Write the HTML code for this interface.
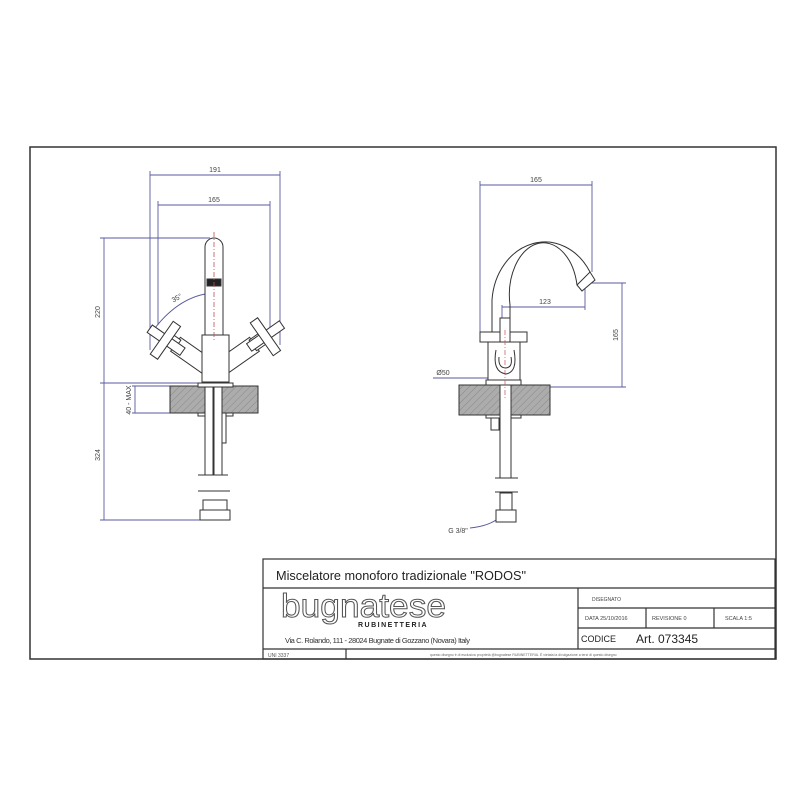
<!DOCTYPE html>
<html><head><meta charset="utf-8"><style>html,body{margin:0;padding:0;background:#fff}svg{display:block}text{font-family:"Liberation Sans",sans-serif}</style></head>
<body>
<svg width="800" height="800" viewBox="0 0 800 800" xmlns="http://www.w3.org/2000/svg">
<defs>
<pattern id="h" width="5" height="5" patternUnits="userSpaceOnUse" patternTransform="rotate(45)">
<rect width="5" height="5" fill="#acacac"/><line x1="0" y1="0" x2="0" y2="5" stroke="#888" stroke-width="1"/></pattern>
</defs>
<rect x="30" y="147" width="746" height="512" fill="none" stroke="#333" stroke-width="1.5"/>
<g stroke="#333" stroke-width="1.2" fill="none">
<rect x="263" y="559" width="512" height="100"/>
<line x1="263" y1="588" x2="775" y2="588"/>
<line x1="578" y1="588" x2="578" y2="649"/>
<line x1="578" y1="608" x2="775" y2="608"/>
<line x1="578" y1="628" x2="775" y2="628"/>
<line x1="646" y1="608" x2="646" y2="628"/>
<line x1="714" y1="608" x2="714" y2="628"/>
<line x1="263" y1="649" x2="775" y2="649"/>
<line x1="346" y1="649" x2="346" y2="659"/>
</g>
<text x="276" y="580" font-size="13" fill="#222" textLength="250" lengthAdjust="spacingAndGlyphs">Miscelatore monoforo tradizionale "RODOS"</text>
<text x="281" y="617" font-size="33" fill="#fff" stroke="#555" stroke-width="1" textLength="165" lengthAdjust="spacingAndGlyphs">bugnatese</text>
<text x="358" y="627" font-size="7" font-weight="bold" fill="#222" letter-spacing="1.5">RUBINETTERIA</text>
<text x="285" y="643" font-size="7.5" fill="#333" textLength="185">Via C. Rolando, 111 - 28024 Bugnate di Gozzano (Novara) Italy</text>
<text x="592" y="601" font-size="5" fill="#444">DISEGNATO</text>
<text x="585" y="620" font-size="5.5" fill="#444">DATA    25/10/2016</text>
<text x="652" y="620" font-size="5.5" fill="#444">REVISIONE  0</text>
<text x="725" y="620" font-size="5.5" fill="#444">SCALA   1:5</text>
<text x="581" y="642" font-size="9" fill="#222">CODICE</text>
<text x="636" y="643" font-size="12" fill="#222">Art. 073345</text>
<text x="268" y="657" font-size="5" fill="#555">UNI 3337</text>
<text x="430" y="656" font-size="3.5" fill="#666">questo disegno è di esclusiva proprietà @bugnatese RUBINETTERIA. È vietata la divulgazione a terzi di questo disegno</text>

<g stroke="#5a5aa0" stroke-width="0.9" fill="none">
<line x1="150" y1="175" x2="280" y2="175"/><line x1="150" y1="171" x2="150" y2="350"/><line x1="280" y1="171" x2="280" y2="345"/>
<line x1="158" y1="205" x2="270" y2="205"/><line x1="158" y1="201" x2="158" y2="325"/><line x1="270" y1="201" x2="270" y2="330"/>
<line x1="104" y1="238" x2="104" y2="520"/><line x1="100" y1="238" x2="210" y2="238"/>
<line x1="100" y1="383" x2="202" y2="383"/><line x1="100" y1="520" x2="205" y2="520"/>
<line x1="135" y1="386" x2="135" y2="413"/><line x1="132" y1="386" x2="170" y2="386"/><line x1="132" y1="413" x2="170" y2="413"/>
<path d="M155 328 Q180 296 212 293"/>
</g>
<g font-size="7" fill="#444" text-anchor="middle">
<text x="215" y="172">191</text><text x="214" y="202">165</text>
<text x="100" y="312" transform="rotate(-90 100 312)">220</text>
<text x="100" y="455" transform="rotate(-90 100 455)">324</text>
<text x="131" y="400" transform="rotate(-90 131 400)">40 - MAX</text>
<text x="178" y="300" transform="rotate(-30 178 300)">35°</text>
</g>
<g stroke="#333" stroke-width="1" fill="#fff">
<path d="M205 335 V247 A9 9 0 0 1 223 247 V335"/>
<rect x="207" y="279" width="14" height="7" fill="#222"/>
<g transform="rotate(35 190 355)"><rect x="172" y="346" width="38" height="17"/><rect x="158" y="348" width="16" height="13"/></g>
<g transform="rotate(35 165 340)"><rect x="146" y="335" width="40" height="9"/><rect x="161" y="320" width="9" height="40"/></g>
<g transform="rotate(-35 240 355)"><rect x="220" y="346" width="38" height="17"/><rect x="256" y="348" width="16" height="13"/></g>
<g transform="rotate(-35 265 337)"><rect x="246" y="332" width="40" height="9"/><rect x="261" y="317" width="9" height="40"/></g>
<rect x="202" y="335" width="27" height="47"/>
<rect x="170" y="386" width="88" height="27" fill="url(#h)"/>
<rect x="198" y="383" width="35" height="4"/>
<rect x="198" y="413" width="35" height="3"/>
<rect x="205" y="387" width="8" height="88"/><rect x="214" y="387" width="8" height="88"/>
<rect x="222" y="413" width="4" height="30"/>
<rect x="203" y="500" width="24" height="20"/><rect x="200" y="510" width="30" height="10"/>
</g>
<g stroke="#333"><line x1="198" y1="475" x2="228" y2="475"/><line x1="198" y1="491" x2="230" y2="491"/></g>
<line x1="214" y1="232" x2="214" y2="340" stroke="#c05050" stroke-width="0.8" stroke-dasharray="5 2 1 2"/>

<g stroke="#5a5aa0" stroke-width="0.9" fill="none">
<line x1="480" y1="185" x2="592" y2="185"/><line x1="480" y1="181" x2="480" y2="335"/><line x1="592" y1="181" x2="592" y2="272"/>
<line x1="502" y1="307" x2="585" y2="307"/><line x1="502" y1="305" x2="502" y2="330"/><line x1="585" y1="283" x2="585" y2="310"/>
<line x1="590" y1="283" x2="626" y2="283"/><line x1="622" y1="283" x2="622" y2="387"/><line x1="520" y1="387" x2="626" y2="387"/>
<line x1="433" y1="378" x2="520" y2="378"/>
<path d="M470 528 Q490 526 500 517"/>
</g>
<g font-size="7" fill="#444" text-anchor="middle">
<text x="536" y="182">165</text><text x="545" y="304">123</text>
<text x="618" y="335" transform="rotate(-90 618 335)">165</text>
<text x="443" y="375">Ø50</text>
<text x="458" y="533">G 3/8"</text>
</g>
<g stroke="#333" stroke-width="1" fill="none">
<path d="M492 333 V300 A53 63 0 0 1 590 272"/>
<path d="M510 333 V305 A34 52 0 0 1 577 285"/>
<path d="M577 285 L590 272 L595 280 L582 291 Z" fill="#fff"/>
</g>
<g stroke="#333" stroke-width="1" fill="#fff">
<rect x="488" y="342" width="32" height="38"/>
<path d="M496 350 Q492 372 506 374 Q518 372 514 350" fill="none"/>
<path d="M499 357 Q498 368 506 368 Q513 367 511 357" fill="none"/>
<rect x="480" y="332" width="47" height="10"/>
<rect x="500" y="318" width="10" height="24"/>
<rect x="459" y="385" width="91" height="30" fill="url(#h)"/>
<rect x="486" y="380" width="35" height="5"/>
<rect x="486" y="415" width="35" height="3"/>
<rect x="500" y="385" width="11" height="93"/>
<rect x="491" y="418" width="8" height="12"/>
<rect x="500" y="493" width="12" height="18"/><rect x="496" y="510" width="20" height="12"/>
</g>
<g stroke="#333"><line x1="495" y1="478" x2="518" y2="478"/><line x1="495" y1="492" x2="518" y2="492"/></g>
<line x1="505" y1="330" x2="505" y2="400" stroke="#c05050" stroke-width="0.7" stroke-dasharray="5 2 1 2"/>
</svg>
</body></html>
